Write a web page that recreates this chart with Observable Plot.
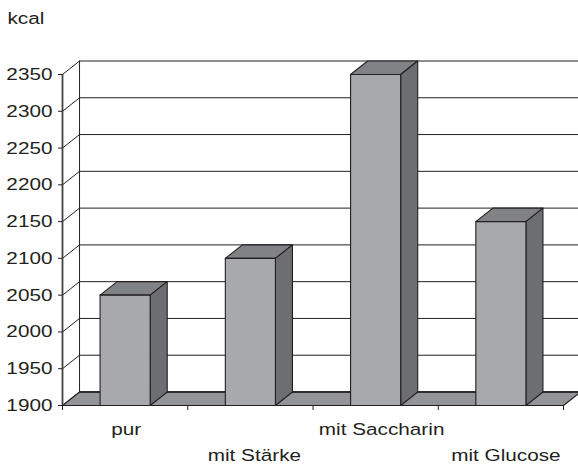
<!DOCTYPE html>
<html><head><meta charset="utf-8">
<style>html,body{margin:0;padding:0;background:#fff}svg{display:block}</style>
<script src="https://cdn.jsdelivr.net/npm/d3@7"></script>
<script src="https://cdn.jsdelivr.net/npm/@observablehq/plot@0.6"></script>
</head><body><script>
const categories = ["pur", "mit Stärke", "mit Saccharin", "mit Glucose"];
const kcal = [2050, 2100, 2350, 2150];
const yTicks = [1900, 1950, 2000, 2050, 2100, 2150, 2200, 2250, 2300, 2350];
const slots = [0, 1, 2, 3, 4];
const labelRow = [0, 1, 0, 1];
const labelShift = [1, 4, 6, 5];

const base = 1900, barHalf = 0.2, depthX = 0.136, depthY = 18.35;
const poly = (id, pts) => pts.map(([x, y]) => ({id, x, y}));
const closed = pts => [...pts, pts[0]];

const floor = poly("floor", closed([[0, base], [depthX, base + depthY], [4 + depthX, base + depthY], [4, base]]));
const fronts = [], sides = [], tops = [];
kcal.forEach((v, i) => {
  const l = i + 0.5 - barHalf, r = i + 0.5 + barHalf;
  fronts.push(...poly("f" + i, closed([[l, base], [l, v], [r, v], [r, base]])));
  sides.push(...poly("s" + i, closed([[r, base], [r + depthX, base + depthY], [r + depthX, v + depthY], [r, v]])));
  tops.push(...poly("t" + i, closed([[l, v], [l + depthX, v + depthY], [r + depthX, v + depthY], [r, v]])));
});
const gridPts = yTicks.flatMap(t => poly("g" + t, [[0, t], [depthX, t + depthY], [4 + depthX, t + depthY]]));
const ink = "#231f20";
const poly3 = (data, fill) => Plot.line(data, {x: "x", y: "y", z: "id", fill, stroke: ink, strokeWidth: 1.1, curve: "linear-closed"});

const chart = Plot.plot({
  width: 578, height: 464,
  marginLeft: 62, marginRight: 15, marginTop: 74, marginBottom: 59,
  style: {fontFamily: "'Liberation Sans', Arial, sans-serif", background: "#fff", overflow: "hidden"},
  x: {type: "linear", domain: [0, 4], axis: null},
  y: {type: "linear", domain: [1900, 2350], axis: null},
  marks: [
    Plot.line(gridPts, {x: "x", y: "y", z: "id", stroke: ink, strokeWidth: 1}),
    poly3(floor, "#929497"),
    Plot.line([{x: depthX, y: base + depthY}, {x: 4 + depthX, y: base + depthY}], {x: "x", y: "y", stroke: ink, strokeWidth: 1.6}),
    Plot.ruleX([depthX], {y1: base + depthY, y2: 2350 + depthY, stroke: ink, strokeWidth: 1}),
    poly3(tops, "#808285"),
    poly3(sides, "#6d6e71"),
    poly3(fronts, "#a7a9ac"),
    Plot.ruleX([0], {y1: 1900, y2: 2350, stroke: "#414042", strokeWidth: 1.8}),
    Plot.ruleY([1900], {x1: 0, x2: 4, stroke: ink, strokeWidth: 1.2}),
    Plot.axisY({ticks: yTicks, tickFormat: d => String(d), anchor: "left", tickSize: 4, tickPadding: 6, fontSize: 17, color: ink, label: null}),
    Plot.axisX({ticks: slots, tickFormat: () => "", anchor: "bottom", tickSize: 5, label: null, color: ink}),
    Plot.text(categories, {
      x: (d, i) => i + 0.5, y: 1900,
      text: d => d,
      fontSize: 17, fill: ink,
      lineAnchor: "middle", textAnchor: "middle", className: "cat"
    }),
    Plot.text(["kcal"], {frameAnchor: "top-left", dx: -55, dy: -56, text: d => d, fontSize: 17, fill: ink, textAnchor: "start", lineAnchor: "middle", className: "kcal"})
  ]
});
document.body.appendChild(chart);

// shift the two-row category labels, and widen all text as in the print original
chart.querySelectorAll("g.cat text").forEach((t, i) => {
  const off = `translate(${labelShift[i]},${labelRow[i] ? 50 : 24})`;
  t.setAttribute("transform", (t.getAttribute("transform") || "") + " " + off);
});
chart.querySelectorAll("text").forEach(t => {
  t.setAttribute("transform", (t.getAttribute("transform") || "") + " scale(1.22,1)");
});
</script></body></html>
